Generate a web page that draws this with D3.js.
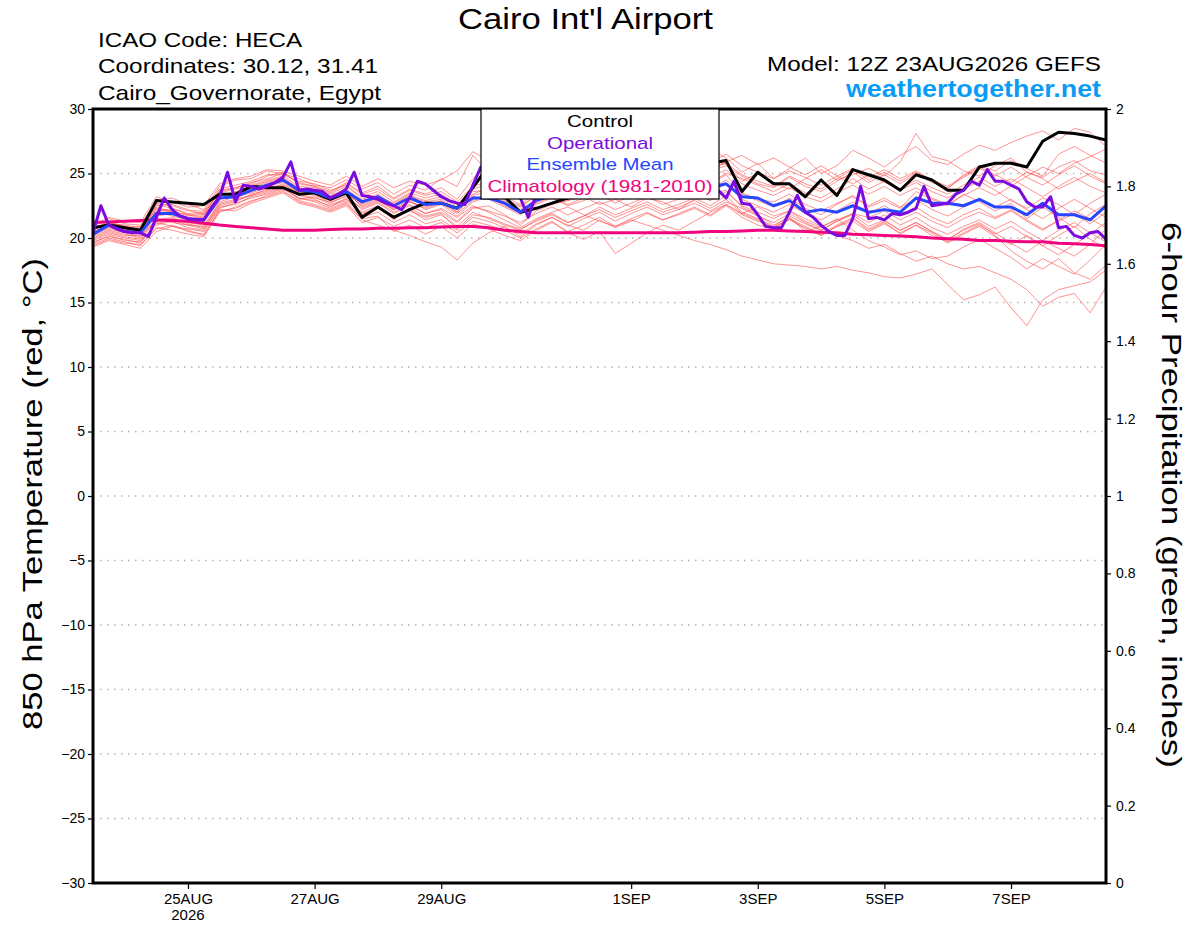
<!DOCTYPE html>
<html>
<head>
<meta charset="utf-8">
<title>Cairo Int'l Airport - GEFS 850 hPa Temperature</title>
<script src="https://cdn.jsdelivr.net/npm/d3@7"></script>
<style>
  html, body { margin: 0; padding: 0; background: #fff; }
  svg { display: block; font-family: "Liberation Sans", Arial, Helvetica, sans-serif; }
</style>
</head>
<body>
<svg id="chart" width="1200" height="927"></svg>
<script>
// Run start and step (hours) of the 6-hourly ensemble output, 3-hourly operational run
const runStart = Date.UTC(2026, 7, 23, 12);
const ensStepHours = 6;
const opStepHours = 3;

// Date labels along the bottom
const tickDates = ['2026-08-25', '2026-08-27', '2026-08-29', '2026-09-01', '2026-09-03', '2026-09-05', '2026-09-07'];
const tickLabels = ['25AUG', '27AUG', '29AUG', '1SEP', '3SEP', '5SEP', '7SEP'];
const tempTicks = [-30, -25, -20, -15, -10, -5, 0, 5, 10, 15, 20, 25, 30];
const precipTicks = [0, 0.2, 0.4, 0.6, 0.8, 1, 1.2, 1.4, 1.6, 1.8, 2];

const legendNames = ['Control', 'Operational', 'Ensemble Mean', 'Climatology (1981-2010)'];

// Control run (black), 6-hourly
const control = [20.8, 21.0, 20.8, 20.6, 22.9, 22.8, 22.7, 22.6, 23.4, 23.4, 24.0, 23.9, 23.9, 23.4, 23.5, 23.0,
  23.5, 21.6, 22.4, 21.6, 22.2, 22.7, 22.7, 22.3, 23.9, 25.6, 23.2, 22.0, 22.3, 22.7, 23.1, 23.4,
  23.8, 24.3, 24.6, 24.2, 24.8, 25.1, 25.4, 25.8, 26.0, 23.6, 25.1, 24.2, 24.2, 23.2, 24.5, 23.3,
  25.3, 24.9, 24.5, 23.7, 24.9, 24.5, 23.7, 23.7, 25.5, 25.8, 25.8, 25.5, 27.5, 28.2, 28.1, 27.9, 27.6];

// Ensemble mean (blue), 6-hourly
const ensMean = [20.3, 21.0, 20.5, 20.4, 21.9, 21.9, 21.5, 21.4, 23.1, 23.2, 23.7, 24.1, 24.5, 23.7, 23.6, 23.1,
  23.6, 22.8, 23.2, 22.5, 23.1, 22.6, 22.7, 22.3, 23.1, 23.1, 22.7, 22.0, 22.9, 23.3, 23.5, 23.6,
  23.4, 23.7, 23.5, 23.8, 23.6, 23.5, 23.7, 23.9, 24.2, 23.2, 23.1, 22.5, 22.9, 22.0, 22.2, 22.0,
  22.5, 22.0, 22.2, 22.0, 23.1, 22.7, 22.7, 22.5, 23.0, 22.4, 22.4, 21.8, 22.7, 21.8, 21.8, 21.4, 22.5];

// Climatology 1981-2010 (magenta), 6-hourly
const climatology = [21.2, 21.25, 21.3, 21.35, 21.4, 21.35, 21.3, 21.15, 21.0, 20.9, 20.8, 20.7, 20.6, 20.6, 20.6, 20.65,
  20.7, 20.7, 20.75, 20.75, 20.8, 20.8, 20.85, 20.9, 20.9, 20.8, 20.6, 20.5, 20.4, 20.4, 20.4, 20.4,
  20.4, 20.4, 20.4, 20.4, 20.4, 20.4, 20.45, 20.5, 20.5, 20.55, 20.6, 20.6, 20.55, 20.5, 20.45, 20.4,
  20.3, 20.25, 20.2, 20.15, 20.1, 20.0, 19.95, 19.9, 19.8, 19.8, 19.75, 19.7, 19.7, 19.6, 19.55, 19.5, 19.4];

// Operational run (purple), 3-hourly
const operational = [20.4, 22.5, 21.0, 20.7, 20.5, 20.4, 20.4, 20.1, 21.6, 23.1, 22.2, 21.7, 21.5, 21.4, 21.4, 22.4,
  23.2, 25.1, 22.8, 24.1, 24.0, 23.8, 24.0, 24.3, 24.7, 25.9, 23.7, 23.8, 23.7, 23.6, 23.1, 23.4,
  23.8, 25.1, 23.3, 23.2, 23.0, 22.7, 22.5, 22.2, 23.1, 24.4, 24.2, 23.7, 23.2, 22.9, 22.7, 22.6,
  24.1, 25.5, 25.0, 24.6, 24.2, 23.8, 23.1, 21.6, 23.4, 23.8, 24.1, 24.3, 24.0, 24.5, 24.2, 24.6,
  24.3, 24.0, 24.4, 24.7, 24.3, 24.1, 24.5, 24.2, 24.0, 24.4, 24.6, 24.3, 24.0, 24.2, 24.0, 23.7,
  23.1, 24.4, 22.7, 22.6, 21.8, 20.9, 20.8, 20.8, 22.0, 23.3, 22.0, 21.6, 21.0, 20.5, 20.2, 20.2,
  21.5, 24.0, 21.5, 21.6, 21.4, 21.9, 21.8, 22.0, 22.3, 24.0, 22.5, 22.6, 22.7, 23.4, 23.7, 24.4,
  24.1, 25.3, 24.4, 24.4, 24.1, 23.8, 22.8, 22.4, 22.4, 23.2, 20.8, 20.9, 20.2, 20.0, 20.4, 20.5, 19.9];

// Perturbed ensemble members (thin red), 6-hourly
const members = [
  [20.6, 21.2, 20.8, 20.9, 22.6, 22.3, 21.9, 22.0, 23.6, 23.9, 24.2, 24.8, 25.1, 24.2, 24.0, 23.6, 24.3,
   23.5, 24.0, 23.1, 23.8, 23.4, 23.9, 23.0, 24.6, 25.8, 25.2, 24.4, 25.0, 25.6, 26.1, 25.4, 25.9,
   26.3, 25.5, 25.8, 26.4, 25.9, 26.6, 26.9, 26.2, 25.1, 25.8, 24.6, 25.4, 26.2, 25.0, 25.6, 26.8,
   26.2, 25.5, 26.4, 27.1, 26.0, 25.7, 26.5, 27.2, 26.8, 27.4, 27.9, 28.3, 27.6, 28.5, 28.2, 27.1],
  [19.6, 20.2, 19.8, 19.7, 21.0, 21.3, 20.8, 20.6, 22.4, 22.6, 23.2, 23.5, 23.9, 23.0, 23.2, 22.6, 23.0,
   22.0, 22.5, 21.4, 22.3, 21.7, 22.0, 21.2, 22.3, 22.5, 21.8, 21.0, 22.1, 22.6, 22.9, 23.2, 22.6,
   23.0, 22.4, 23.1, 22.8, 22.2, 23.0, 23.4, 23.7, 22.4, 21.8, 21.0, 21.6, 20.5, 20.9, 20.2, 19.8,
   19.2, 19.5, 18.8, 18.2, 18.6, 18.0, 17.6, 17.8, 17.3, 16.8, 16.0, 14.7, 15.4, 15.7, 14.2, 16.2],
  [20.1, 20.6, 20.3, 20.0, 21.5, 21.2, 21.0, 20.9, 22.7, 23.0, 23.3, 23.8, 24.0, 23.4, 23.1, 22.8, 23.2,
   22.3, 22.8, 22.0, 22.6, 21.9, 22.3, 21.6, 22.5, 22.0, 21.4, 20.8, 21.5, 22.0, 22.4, 21.8, 21.3,
   20.9, 21.4, 21.0, 20.6, 20.2, 19.8, 19.5, 19.1, 18.6, 18.3, 18.0, 17.9, 17.8, 17.6, 17.8, 17.5,
   17.3, 17.0, 16.9, 17.2, 17.6, 16.4, 15.2, 15.6, 16.2, 14.6, 13.2, 15.2, 16.0, 16.3, 16.6, 17.5],
  [20.9, 21.5, 21.1, 21.0, 22.9, 23.1, 22.6, 22.2, 24.0, 24.5, 24.6, 25.2, 25.0, 24.6, 24.1, 23.9, 24.5,
   23.8, 24.3, 23.4, 24.1, 23.7, 24.6, 24.0, 26.4, 25.1, 24.0, 23.6, 24.4, 25.2, 24.7, 25.5, 24.8,
   25.0, 24.6, 25.3, 25.8, 24.9, 25.4, 26.0, 25.7, 24.4, 25.0, 24.2, 23.8, 24.6, 25.3, 24.5, 24.9,
   25.4, 24.8, 25.9, 28.1, 26.3, 26.0, 25.2, 24.8, 25.6, 26.2, 25.1, 24.7, 25.5, 26.0, 25.2, 24.9],
  [20.4, 20.9, 20.6, 20.3, 22.1, 21.7, 21.4, 21.6, 23.0, 23.4, 23.9, 24.3, 24.6, 23.9, 23.5, 23.3, 23.8,
   22.9, 23.2, 22.7, 23.4, 22.5, 22.9, 22.0, 23.3, 23.6, 22.9, 22.4, 23.3, 23.8, 23.0, 23.5, 24.1,
   23.6, 23.9, 24.4, 23.8, 24.1, 24.6, 24.2, 24.9, 23.5, 23.0, 22.8, 23.4, 22.6, 22.1, 22.7, 23.2,
   22.4, 22.9, 22.3, 23.6, 23.0, 22.5, 23.4, 22.8, 22.1, 22.7, 21.5, 22.4, 21.6, 20.8, 21.9, 22.6],
  [19.9, 20.4, 20.1, 19.9, 21.4, 21.6, 21.1, 20.8, 22.5, 22.8, 23.4, 23.7, 24.2, 23.3, 23.0, 22.4, 23.1,
   21.8, 22.4, 21.6, 22.2, 21.4, 21.8, 20.9, 22.0, 21.5, 21.0, 20.6, 21.4, 21.9, 21.2, 21.7, 22.4,
   21.8, 22.3, 22.8, 22.2, 22.6, 23.1, 22.5, 23.3, 22.0, 21.5, 20.9, 21.7, 21.1, 20.6, 21.3, 21.8,
   20.9, 21.4, 20.6, 21.2, 20.5, 19.8, 20.7, 21.2, 20.4, 19.6, 18.9, 19.8, 19.2, 18.6, 19.5, 20.7],
  [20.7, 21.3, 20.9, 20.6, 22.4, 22.0, 21.8, 21.9, 23.5, 23.8, 24.1, 24.5, 24.8, 24.0, 23.9, 23.4, 24.0,
   23.2, 23.6, 22.8, 23.5, 23.1, 23.4, 22.6, 23.8, 24.2, 23.6, 23.0, 23.9, 24.5, 24.1, 24.8, 25.2,
   24.6, 25.1, 25.6, 25.0, 25.4, 25.9, 25.2, 25.6, 24.8, 24.2, 23.9, 24.7, 24.0, 23.6, 24.4, 25.1,
   24.3, 24.9, 24.2, 25.0, 24.4, 23.8, 24.9, 25.6, 25.2, 26.0, 25.4, 24.8, 26.5, 27.1, 26.4, 25.8],
  [19.5, 20.0, 19.7, 19.4, 20.8, 20.6, 20.3, 20.1, 22.0, 22.4, 22.9, 23.2, 23.6, 22.9, 22.6, 22.2, 22.7,
   21.4, 21.0, 20.6, 20.2, 19.7, 19.3, 18.3, 19.6, 20.4, 20.9, 20.1, 21.0, 21.6, 21.0, 20.6, 21.4,
   20.8, 21.3, 21.9, 21.4, 21.8, 22.3, 21.7, 22.5, 21.6, 21.0, 20.7, 21.4, 20.8, 20.2, 20.9, 21.5,
   20.6, 21.2, 20.3, 21.0, 20.4, 19.6, 20.3, 20.9, 20.1, 19.5, 20.2, 19.4, 18.7, 19.5, 20.3, 21.2],
  [21.0, 21.6, 21.3, 21.2, 23.2, 22.8, 22.4, 22.5, 24.2, 24.6, 24.8, 25.3, 25.2, 24.8, 24.4, 24.1, 24.8,
   24.0, 24.6, 23.9, 24.4, 24.1, 24.5, 25.2, 26.7, 26.0, 25.4, 24.8, 25.2, 25.9, 25.3, 25.8, 26.2,
   25.6, 25.9, 26.3, 25.7, 26.0, 26.4, 25.8, 26.5, 25.6, 25.1, 24.6, 25.2, 24.7, 24.1, 24.8, 25.4,
   24.7, 25.3, 24.6, 25.2, 24.5, 24.0, 24.8, 25.5, 24.9, 24.3, 25.1, 24.6, 23.8, 24.4, 25.0, 24.3],
  [19.3, 19.8, 19.5, 19.2, 20.5, 20.9, 20.6, 20.2, 22.2, 22.1, 22.7, 23.1, 23.5, 22.7, 22.4, 22.0, 22.5,
   21.2, 21.6, 20.9, 21.4, 20.8, 21.2, 20.4, 21.3, 21.0, 20.6, 20.0, 20.7, 21.3, 20.4, 19.9, 20.5,
   18.8, 19.6, 20.4, 21.0, 20.6, 21.3, 22.0, 22.6, 21.9, 22.4, 21.7, 22.1, 21.5, 20.9, 21.4, 21.9,
   21.2, 21.8, 21.0, 21.6, 20.8, 20.3, 20.9, 21.4, 20.7, 21.3, 20.5, 19.8, 20.6, 21.2, 20.4, 19.7],
  [20.2, 20.7, 20.4, 20.1, 21.7, 21.9, 21.6, 21.3, 23.2, 23.1, 23.6, 24.0, 24.3, 23.5, 23.3, 22.9, 23.4,
   22.6, 23.1, 22.3, 22.9, 22.2, 22.6, 21.7, 22.8, 23.2, 22.5, 21.9, 22.6, 23.1, 22.5, 22.9, 23.4,
   22.7, 23.3, 23.9, 23.2, 23.6, 24.1, 23.5, 24.2, 23.0, 22.5, 22.0, 22.6, 21.9, 21.4, 22.1, 22.8,
   21.9, 22.5, 21.8, 22.4, 21.6, 21.1, 21.8, 22.3, 21.6, 22.2, 21.4, 20.7, 21.3, 21.9, 21.1, 22.0],
  [20.5, 21.0, 20.7, 20.5, 22.3, 22.1, 21.7, 21.8, 23.3, 23.6, 24.0, 24.4, 24.7, 23.8, 23.7, 23.1, 23.7,
   22.7, 23.3, 22.5, 23.2, 22.8, 23.0, 22.3, 23.4, 23.9, 23.2, 22.6, 23.5, 24.1, 23.6, 24.2, 24.7,
   24.1, 24.6, 25.0, 24.4, 24.8, 25.3, 24.7, 25.3, 24.2, 23.7, 23.3, 23.9, 23.2, 22.8, 23.5, 24.1,
   23.4, 24.0, 23.3, 23.9, 23.1, 22.6, 23.3, 23.9, 23.3, 24.0, 24.8, 25.5, 25.0, 25.8, 26.3, 26.9],
  [20.0, 20.5, 20.2, 20.2, 21.3, 21.5, 21.2, 21.0, 22.8, 23.2, 23.5, 23.9, 24.1, 23.6, 23.4, 22.7, 23.3,
   22.2, 22.7, 21.9, 22.5, 21.9, 22.2, 21.3, 22.4, 22.1, 21.7, 21.2, 21.9, 22.4, 21.8, 22.3, 22.8,
   22.2, 22.7, 23.2, 22.6, 23.0, 23.5, 22.9, 23.6, 22.5, 22.0, 21.5, 22.1, 21.3, 20.8, 21.5, 20.6,
   19.8, 19.3, 18.7, 19.0, 18.4, 18.6, 19.3, 19.9, 19.2, 18.5, 17.6, 18.4, 17.8, 17.2, 18.3, 19.5],
  [20.8, 21.1, 21.0, 20.8, 22.7, 22.5, 22.1, 22.1, 23.8, 24.1, 24.4, 24.9, 24.9, 24.4, 24.2, 23.7, 24.1,
   23.0, 23.4, 22.6, 23.3, 22.9, 23.2, 22.4, 23.6, 23.7, 23.0, 22.5, 23.2, 23.7, 23.3, 23.8, 24.3,
   23.8, 24.3, 24.7, 24.1, 24.4, 24.9, 24.3, 25.0, 24.6, 24.1, 23.6, 24.2, 23.5, 23.1, 23.8, 24.6,
   23.8, 24.4, 23.7, 24.3, 23.6, 23.1, 23.8, 24.4, 23.7, 22.9, 22.3, 23.1, 22.6, 21.8, 22.7, 23.4],
  [19.8, 20.3, 20.0, 19.8, 21.1, 21.4, 21.0, 20.7, 22.6, 22.9, 23.3, 23.6, 24.0, 23.1, 22.9, 22.5, 22.9,
   21.9, 22.3, 21.5, 22.1, 21.6, 21.9, 20.7, 21.8, 21.6, 21.1, 20.7, 21.3, 21.8, 21.2, 21.7, 22.2,
   21.6, 22.1, 22.6, 22.0, 22.4, 22.9, 22.3, 23.0, 21.9, 21.4, 20.8, 21.5, 20.9, 20.3, 21.0, 21.6,
   20.7, 21.3, 20.6, 21.2, 20.5, 19.9, 20.6, 21.1, 20.2, 19.0, 18.2, 17.6, 18.4, 17.3, 16.8, 17.9],
  [20.3, 20.8, 20.5, 20.4, 22.0, 22.3, 21.8, 21.5, 23.4, 23.5, 23.8, 24.2, 24.5, 23.8, 23.6, 23.2, 23.6,
   22.4, 22.9, 22.2, 22.8, 22.3, 22.7, 21.9, 22.9, 23.4, 22.8, 22.2, 23.0, 23.5, 22.9, 23.4, 23.9,
   23.3, 23.8, 24.3, 23.7, 24.2, 24.7, 25.3, 25.9, 26.4, 25.7, 26.2, 25.5, 24.9, 25.6, 24.8, 24.2,
   24.9, 24.3, 23.8, 24.5, 23.9, 23.4, 24.1, 24.7, 24.0, 24.6, 23.9, 23.2, 24.0, 24.7, 24.0, 23.5],
  [19.7, 20.1, 19.9, 19.6, 21.2, 20.9, 20.7, 20.5, 22.3, 22.7, 23.1, 23.4, 23.8, 23.1, 22.8, 22.3, 22.8,
   21.6, 22.0, 21.2, 21.8, 21.1, 21.4, 20.6, 21.6, 21.3, 20.8, 20.3, 21.1, 21.6, 20.9, 21.5, 22.0,
   21.3, 21.9, 22.4, 21.8, 22.2, 22.7, 22.1, 22.8, 22.3, 21.7, 21.2, 21.9, 21.2, 20.6, 21.3, 21.9,
   21.6, 22.1, 21.4, 22.0, 21.3, 20.8, 21.5, 22.0, 21.5, 22.1, 21.3, 20.6, 21.4, 22.1, 21.5, 20.8],
  [20.6, 21.2, 20.9, 20.7, 22.5, 22.6, 22.2, 21.8, 23.7, 23.9, 24.3, 24.6, 25.0, 24.3, 24.0, 23.5, 24.2,
   23.4, 23.8, 23.0, 23.7, 23.3, 23.6, 22.8, 24.0, 24.4, 23.8, 23.3, 24.1, 24.7, 24.2, 24.9, 25.4,
   24.8, 25.3, 25.8, 25.2, 25.6, 26.1, 25.4, 25.8, 24.9, 24.4, 24.0, 24.8, 24.2, 23.8, 24.6, 25.3,
   24.5, 25.1, 24.4, 25.1, 24.3, 23.9, 24.7, 25.4, 24.8, 25.5, 24.7, 24.1, 24.9, 25.6, 24.8, 24.2],
  [19.4, 19.9, 19.6, 19.5, 20.7, 21.0, 20.5, 20.3, 22.1, 22.3, 22.8, 23.3, 23.7, 22.8, 22.5, 22.1, 22.6,
   21.5, 21.7, 20.5, 21.0, 20.3, 20.9, 20.0, 21.1, 20.7, 20.2, 19.8, 20.6, 21.2, 20.5, 21.0, 21.6,
   20.9, 21.5, 22.0, 21.4, 21.9, 22.4, 21.8, 22.6, 21.8, 21.3, 20.8, 21.5, 20.7, 20.2, 20.9, 21.3,
   20.5, 21.1, 20.4, 21.0, 20.2, 19.7, 20.4, 21.0, 20.3, 20.9, 20.1, 19.4, 20.2, 20.9, 19.9, 19.2],
  [20.4, 21.0, 20.6, 20.6, 22.2, 22.0, 21.5, 21.7, 23.1, 23.3, 23.8, 24.1, 24.4, 23.7, 23.5, 23.0, 23.5,
   22.5, 23.0, 22.2, 22.8, 22.4, 22.8, 22.0, 23.2, 23.0, 22.4, 21.8, 22.7, 23.2, 22.6, 23.1, 23.7,
   23.1, 23.6, 24.1, 23.5, 23.9, 24.4, 23.8, 24.5, 23.4, 22.9, 22.4, 23.1, 22.3, 21.8, 22.6, 23.3,
   22.5, 23.1, 22.4, 23.0, 22.2, 21.7, 22.4, 23.0, 22.4, 23.0, 22.2, 21.5, 22.3, 23.0, 22.3, 21.6]
];

// 6-hour precipitation (green); the run shows none
const precipHours = [0, 384];
const precipTotals = [0, 0];

document.addEventListener('DOMContentLoaded', () => {
    // Plot frame
    const plot = { left: 93, right: 1106, top: 109, bottom: 883 };
    const svg = d3.select('#chart');

    const hourToDate = h => new Date(runStart + h * 3600 * 1000);

    const x = d3.scaleUtc()
        .domain([hourToDate(0), hourToDate(384)])
        .range([plot.left, plot.right]);
    const y = d3.scaleLinear().domain([-30, 30]).range([plot.bottom, plot.top]);
    const yPrecip = d3.scaleLinear().domain([0, 2]).range([plot.bottom, plot.top]);

    // The original lettering is drawn wider than Liberation Sans, so stretch to the measured width
    function addText(parent, txt, px, py, size, width, anchor) {
        const t = parent.append('text')
            .attr('x', px).attr('y', py)
            .attr('text-anchor', anchor || 'start')
            .style('font-size', size + 'px')
            .text(txt);
        if (width) t.attr('textLength', width).attr('lengthAdjust', 'spacingAndGlyphs');
        return t;
    }

    svg.append('defs').append('clipPath').attr('id', 'plotClip')
        .append('rect')
        .attr('x', plot.left).attr('y', plot.top)
        .attr('width', plot.right - plot.left).attr('height', plot.bottom - plot.top);

    // Dotted grid lines
    svg.append('g')
        .selectAll('line')
        .data(tempTicks.filter(d => d > -30 && d < 30))
        .enter().append('line')
        .attr('x1', plot.left).attr('x2', plot.right)
        .attr('y1', d => y(d)).attr('y2', d => y(d))
        .attr('stroke', '#b4b4b4')
        .attr('stroke-width', 1.4)
        .attr('stroke-dasharray', '1.5,5.5');

    const lines = svg.append('g').attr('clip-path', 'url(#plotClip)');

    const ensLine = d3.line()
        .x((d, i) => x(hourToDate(i * ensStepHours)))
        .y(d => y(d));
    const opLine = d3.line()
        .x((d, i) => x(hourToDate(i * opStepHours)))
        .y(d => y(d));

    // Members first so the main curves sit on top
    members.forEach(m => {
        lines.append('path')
            .attr('d', ensLine(m))
            .attr('fill', 'none')
            .attr('stroke', '#ff3b3b')
            .attr('stroke-opacity', 0.7)
            .attr('stroke-width', 0.8);
    });

    lines.append('path')
        .attr('d', d3.line().x((d, i) => x(hourToDate(precipHours[i]))).y(d => yPrecip(d))(precipTotals))
        .attr('fill', 'none')
        .attr('stroke', '#00b000')
        .attr('stroke-width', 2);

    const mainSeries = [
        { data: climatology, line: ensLine, color: '#f0057f' },
        { data: control, line: ensLine, color: '#000000' },
        { data: ensMean, line: ensLine, color: '#2646ff' },
        { data: operational, line: opLine, color: '#7a0ae0' }
    ];
    mainSeries.forEach(s => {
        lines.append('path')
            .attr('d', s.line(s.data))
            .attr('fill', 'none')
            .attr('stroke', s.color)
            .attr('stroke-width', 3)
            .attr('stroke-linejoin', 'round');
    });

    // Axes
    const leftAxis = svg.append('g')
        .attr('transform', `translate(${plot.left},0)`)
        .call(d3.axisLeft(y).tickValues(tempTicks).tickSize(5).tickPadding(3));
    const rightAxis = svg.append('g')
        .attr('transform', `translate(${plot.right},0)`)
        .call(d3.axisRight(yPrecip).tickValues(precipTicks).tickSize(5).tickPadding(5)
            .tickFormat(d3.format('~g')));
    const bottomAxis = svg.append('g')
        .attr('transform', `translate(0,${plot.bottom})`)
        .call(d3.axisBottom(x)
            .tickValues(tickDates.map(d => new Date(d + 'T00:00:00Z')))
            .tickFormat((d, i) => tickLabels[i])
            .tickSize(6).tickPadding(4));

    [leftAxis, rightAxis, bottomAxis].forEach(a => {
        a.select('.domain').remove();
        a.selectAll('text').style('font-size', '14px').attr('fill', '#000');
        a.selectAll('.tick line').attr('stroke', '#000').attr('stroke-width', 1.2);
    });
    bottomAxis.selectAll('text').style('font-size', '15px');

    // Year under the first date
    svg.append('text')
        .attr('x', x(new Date(tickDates[0] + 'T00:00:00Z')))
        .attr('y', 920)
        .attr('text-anchor', 'middle')
        .style('font-size', '15px')
        .text('2026');

    // Frame
    svg.append('rect')
        .attr('x', plot.left).attr('y', plot.top)
        .attr('width', plot.right - plot.left).attr('height', plot.bottom - plot.top)
        .attr('fill', 'none')
        .attr('stroke', '#000')
        .attr('stroke-width', 3);

    // Legend box
    const legend = svg.append('g');
    legend.append('rect')
        .attr('x', 481).attr('y', plot.top)
        .attr('width', 238).attr('height', 90)
        .attr('fill', '#fff')
        .attr('stroke', '#000')
        .attr('stroke-width', 1.2);
    const legendColors = ['#000000', '#7a0ae0', '#2646ff', '#f0057f'];
    const legendWidths = [66, 106, 147, 225];
    legendNames.forEach((name, i) => {
        addText(legend, name, 600, 127 + i * 21.5, 17, legendWidths[i], 'middle')
            .attr('fill', legendColors[i]);
    });

    // Titles and station info
    addText(svg, "Cairo Int'l Airport", 585.5, 29, 30, 255, 'middle');

    const info = ['ICAO Code: HECA', 'Coordinates: 30.12, 31.41', 'Cairo_Governorate, Egypt'];
    const infoWidths = [204, 280, 283];
    info.forEach((t, i) => addText(svg, t, 98, 47 + i * 26.3, 21, infoWidths[i]));

    addText(svg, 'Model: 12Z 23AUG2026 GEFS', 1101, 71, 21, 334, 'end');

    addText(svg, 'weathertogether.net', 1101, 97, 23, 255, 'end')
        .attr('fill', '#0a9cf5')
        .style('font-weight', 'bold');

    // Axis titles
    addText(svg, '850 hPa Temperature (red, °C)', 0, 0, 28, 472, 'middle')
        .attr('x', null).attr('y', null)
        .attr('transform', `translate(42,494) rotate(-90)`);

    addText(svg, '6-hour Precipitation (green, inches)', 0, 0, 28, 546, 'middle')
        .attr('x', null).attr('y', null)
        .attr('transform', `translate(1162,495) rotate(90)`);
});
</script>
</body>
</html>
